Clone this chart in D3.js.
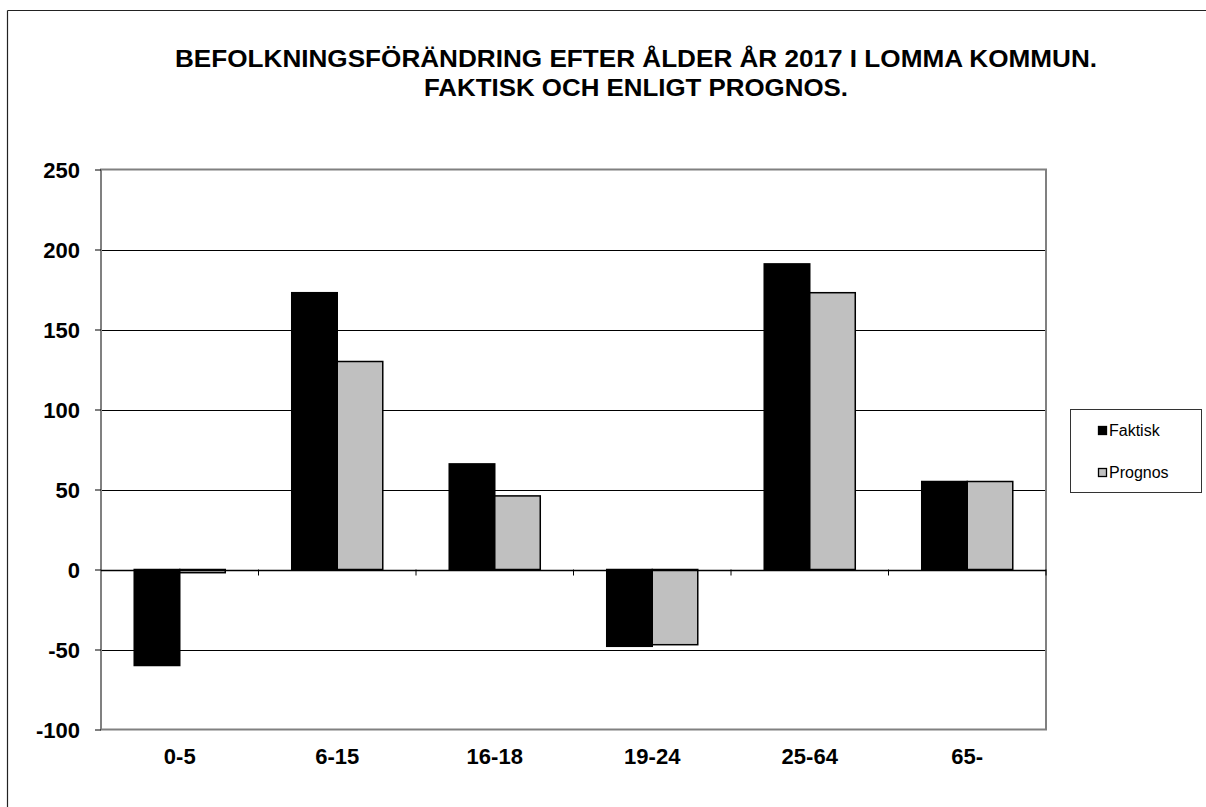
<!DOCTYPE html>
<html><head><meta charset="utf-8">
<script src="https://cdn.jsdelivr.net/npm/d3@7"></script>
<style>body{margin:0;background:#fff}svg{display:block;font-family:"Liberation Sans",Arial,sans-serif}</style>
</head><body><svg id="c" width="1206" height="807"></svg>
<script>
const categories = ["0-5","6-15","16-18","19-24","25-64","65-"];
const faktisk = [-60,173,66,-48,191,55];
const prognos = [-2,130,46,-47,173,55];
const seriesNames = ["Faktisk","Prognos"];
const yTicks = [-100,-50,0,50,100,150,200,250];
const titleLines = ["BEFOLKNINGSFÖRÄNDRING EFTER ÅLDER ÅR 2017 I LOMMA KOMMUN.","FAKTISK OCH ENLIGT PROGNOS."];
const colors = ["#000000","#c0c0c0"];

const svg = d3.select("#c");
// outer frame (left & top visible)
svg.append("line").attr("x1",7.5).attr("y1",10.5).attr("x2",1206).attr("y2",10.5).attr("stroke","#222").attr("stroke-width",1.2);
svg.append("line").attr("x1",7.5).attr("y1",10.5).attr("x2",7.5).attr("y2",807).attr("stroke","#222").attr("stroke-width",1.2);

const L=101, R=1046, T=169.5, B=729.5;
const x = d3.scaleBand().domain(categories).range([L,R]).paddingInner(0).paddingOuter(0);
const y = d3.scaleLinear().domain([-100,250]).range([B,T]);

// gridlines
svg.append("g").selectAll("line").data(yTicks.filter(d=>d!==-100 && d!==250)).join("line")
  .attr("x1",L).attr("x2",R).attr("y1",d=>Math.round(y(d))+0.5).attr("y2",d=>Math.round(y(d))+0.5)
  .attr("stroke","#000").attr("stroke-width",1);

// bars
const data = categories.map((c,i)=>({c, vals:[faktisk[i],prognos[i]]}));
const groupW = x.bandwidth()*0.578;
const xs = d3.scaleBand().domain(seriesNames).range([0,groupW]);
const g = svg.append("g");
data.forEach(d=>{
  const gx = x(d.c) + (x.bandwidth()-groupW)/2;
  d.vals.forEach((v,j)=>{
    g.append("rect")
      .attr("x", gx + xs(seriesNames[j]))
      .attr("width", xs.bandwidth())
      .attr("y", y(Math.max(0,v)))
      .attr("height", Math.abs(y(v)-y(0)))
      .attr("fill", colors[j]).attr("stroke","#000").attr("stroke-width",1.5);
  });
});

// plot border
svg.append("rect").attr("x",L).attr("y",T).attr("width",R-L).attr("height",B-T)
  .attr("fill","none").attr("stroke","#808080").attr("stroke-width",2);

// y axis
const yAxis = svg.append("g").attr("transform",`translate(${L},0)`)
  .call(d3.axisLeft(y).tickValues(yTicks).tickSize(6).tickPadding(15).tickFormat(d=>String(d)));
yAxis.select(".domain").remove();
yAxis.selectAll(".tick line").attr("stroke","#000").attr("stroke-width",1);
yAxis.selectAll("text").attr("font-size",22).attr("font-weight","bold").attr("fill","#000")
  .attr("font-family","'Liberation Sans',Arial,sans-serif").attr("dy","0.36em");

// zero line with ticks at category boundaries
svg.append("line").attr("x1",L).attr("x2",R).attr("y1",Math.round(y(0))+0.5).attr("y2",Math.round(y(0))+0.5).attr("stroke","#000").attr("stroke-width",1.3);
const bounds = categories.slice(1).map(c=>x(c)).concat([R]);
svg.append("g").selectAll("line").data(bounds).join("line")
  .attr("x1",d=>d).attr("x2",d=>d).attr("y1",y(0)).attr("y2",y(0)+6)
  .attr("stroke","#000").attr("stroke-width",1);

// x labels
const xAxis = svg.append("g").attr("transform",`translate(0,${B})`)
  .call(d3.axisBottom(x).tickSize(0).tickPadding(19));
xAxis.select(".domain").remove();
xAxis.selectAll("text").attr("font-size",22).attr("font-weight","bold").attr("fill","#000")
  .attr("font-family","'Liberation Sans',Arial,sans-serif");

// title
const titleWidths = [922, 424];
svg.selectAll(".title").data(titleLines).join("text").attr("class","title")
  .attr("x",636).attr("y",(d,i)=>67+i*29).attr("text-anchor","middle")
  .attr("textLength",(d,i)=>titleWidths[i]).attr("lengthAdjust","spacingAndGlyphs")
  .attr("font-size",23).attr("font-weight","bold").attr("fill","#000").text(d=>d);

// legend
const lg = svg.append("g");
lg.append("rect").attr("x",1070.5).attr("y",409.5).attr("width",131).attr("height",83)
  .attr("fill","#fff").attr("stroke","#333").attr("stroke-width",1);
seriesNames.forEach((s,i)=>{
  const yy = 426 + i*42;
  lg.append("rect").attr("x",1098.5).attr("y",yy+0.5).attr("width",8).attr("height",8)
    .attr("fill",colors[i]).attr("stroke","#000").attr("stroke-width",1.3);
  lg.append("text").attr("x",1109).attr("y",yy+10).attr("font-size",16).attr("fill","#000").text(s);
});
</script></body></html>
